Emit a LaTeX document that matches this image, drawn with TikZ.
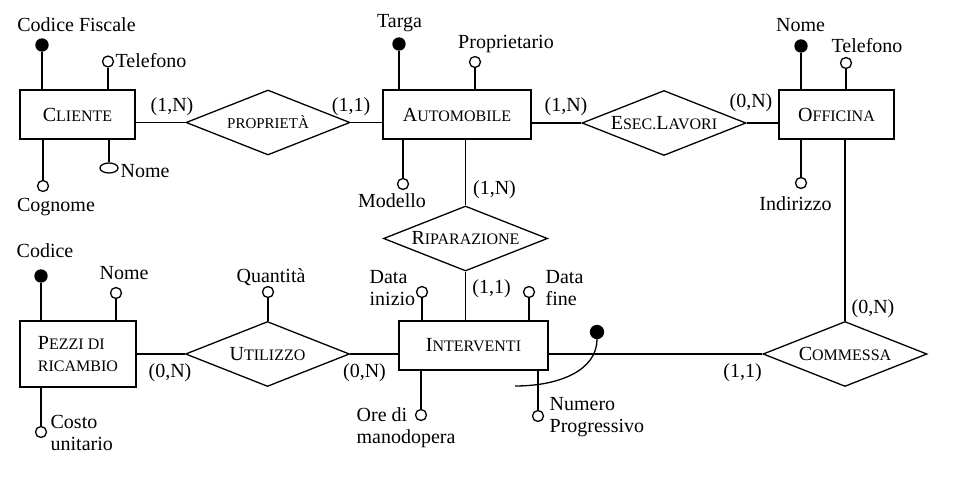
\documentclass[tikz,border=0pt]{standalone}
\usepackage{fontspec}
\setmainfont{Liberation Serif}
\usetikzlibrary{positioning,shapes.geometric,calc}

\newcommand{\smc}[1]{{\fontsize{8}{9}\selectfont #1}}
\newcommand{\ent}[2]{#1\smc{#2}}

\begin{document}
\begin{tikzpicture}[
  x=0.5pt, y=-0.5pt,
  font=\fontsize{10}{11}\selectfont,
  line width=0.65pt,
  entity/.style={draw, rectangle, inner sep=0pt, minimum height=24.5pt, fill=white},
  relation/.style={draw, diamond, aspect=2.5, inner sep=0pt, minimum width=82pt,
    minimum height=32.5pt, fill=white},
  key/.style={circle, draw, fill=black, inner sep=0pt, minimum size=6pt},
  attr/.style={circle, draw, fill=white, inner sep=0pt, minimum size=5.5pt},
  card/.style={inner sep=0pt, anchor=base},
  lbl/.style={inner sep=0pt, anchor=base},
  lbl2/.style={inner sep=0pt, anchor=west, align=left}
]
\useasboundingbox (0,0) rectangle (957,482);

% entities
\node[entity, minimum width=57.5pt] (ent-cliente) at (77.5,114.5) {\ent{C}{LIENTE}};
\node[entity, minimum width=74pt] (ent-automobile) at (457,114.5) {\ent{A}{UTOMOBILE}};
\node[entity, minimum width=57.5pt] (ent-officina) at (836.5,114.5) {\ent{O}{FFICINA}};
\node[entity, minimum width=58pt, minimum height=33pt, align=left] (ent-pezzi) at (78,354) {\ent{P}{EZZI DI}\\\smc{RICAMBIO}};
\node[entity, minimum width=74.5pt] (ent-interventi) at (473.5,345.5) {\ent{I}{NTERVENTI}};

% relationships
\node[relation] (rel-proprieta) at (268,122.5) {{\fontsize{7.5}{9}\selectfont PROPRIET\`A}};
\node[relation] (rel-esec) at (664,123) {\ent{E}{SEC.}\ent{L}{AVORI}};
\node[relation] (rel-riparazione) at (465.5,238.5) {\ent{R}{IPARAZIONE}};
\node[relation] (rel-utilizzo) at (267.5,354) {\ent{U}{TILIZZO}};
\node[relation] (rel-commessa) at (845,354) {\ent{C}{OMMESSA}};

% links
\draw (ent-cliente.east |- rel-proprieta.west) -- (rel-proprieta.west);
\draw (rel-proprieta.east) -- (rel-proprieta.east -| ent-automobile.west);
\draw (ent-automobile.east |- rel-esec.west) -- (rel-esec.west);
\draw (rel-esec.east) -- (rel-esec.east -| ent-officina.west);
\draw (rel-riparazione.north) -- (rel-riparazione.north |- ent-automobile.south);
\draw (rel-riparazione.south) -- (rel-riparazione.south |- ent-interventi.north);
\draw (ent-pezzi.east |- rel-utilizzo.west) -- (rel-utilizzo.west);
\draw (rel-utilizzo.east) -- (rel-utilizzo.east -| ent-interventi.west);
\draw (ent-interventi.east |- rel-commessa.west) -- (rel-commessa.west);
\draw (rel-commessa.north) -- (rel-commessa.north |- ent-officina.south);

% cardinalities
\node[card] (card-cli-prop) at (172,111) {(1,N)};
\node[card] (card-auto-prop) at (351,111) {(1,1)};
\node[card] (card-auto-esec) at (566,111) {(1,N)};
\node[card] (card-off-esec) at (751,107) {(0,N)};
\node[card] (card-auto-rip) at (494.5,194) {(1,N)};
\node[card] (card-int-rip) at (491.5,293) {(1,1)};
\node[card] (card-pez-util) at (170,377) {(0,N)};
\node[card] (card-int-util) at (364.5,377) {(0,N)};
\node[card] (card-int-comm) at (742.5,377) {(1,1)};
\node[card] (card-off-comm) at (873,313) {(0,N)};

% cliente attributes
\node[key] (key-cliente-cf) at (42,45) {};
\node[attr] (att-cliente-tel) at (108,61.5) {};
\node[attr] (att-cliente-cogn) at (43,186) {};
\node[draw, ellipse, fill=white, inner sep=0pt, minimum width=9pt, minimum height=5pt] (att-cliente-nome) at (109,168) {};
\draw (key-cliente-cf) -- (key-cliente-cf |- ent-cliente.north);
\draw (att-cliente-tel) -- (att-cliente-tel |- ent-cliente.north);
\draw (att-cliente-cogn) -- (att-cliente-cogn |- ent-cliente.south);
\draw (att-cliente-nome) -- (att-cliente-nome |- ent-cliente.south);
\node[lbl] (lbl-cliente-cf) at (76.5,32) {Codice Fiscale};
\node[lbl, anchor=base west] (lbl-cliente-tel) at (115,67) {Telefono};
\node[lbl] (lbl-cliente-cogn) at (56,211) {Cognome};
\node[lbl, anchor=base west] (lbl-cliente-nome) at (120,177) {Nome};

% automobile attributes
\node[key] (key-auto-targa) at (399,44) {};
\node[attr] (att-auto-prop) at (475,62) {};
\node[attr] (att-auto-mod) at (403,184) {};
\draw (key-auto-targa) -- (key-auto-targa |- ent-automobile.north);
\draw (att-auto-prop) -- (att-auto-prop |- ent-automobile.north);
\draw (att-auto-mod) -- (att-auto-mod |- ent-automobile.south);
\node[lbl] (lbl-auto-targa) at (399.5,27) {Targa};
\node[lbl] (lbl-auto-prop) at (506,48) {Proprietario};
\node[lbl] (lbl-auto-mod) at (392,207) {Modello};

% officina attributes
\node[key] (key-off-nome) at (801,46) {};
\node[attr] (att-off-tel) at (846,63) {};
\node[attr] (att-off-ind) at (801,183) {};
\draw (key-off-nome) -- (key-off-nome |- ent-officina.north);
\draw (att-off-tel) -- (att-off-tel |- ent-officina.north);
\draw (att-off-ind) -- (att-off-ind |- ent-officina.south);
\node[lbl] (lbl-off-nome) at (800.5,32) {Nome};
\node[lbl] (lbl-off-tel) at (867,52) {Telefono};
\node[lbl] (lbl-off-ind) at (795.5,210) {Indirizzo};

% pezzi di ricambio attributes
\node[key] (key-pezzi-cod) at (41,276) {};
\node[attr] (att-pezzi-nome) at (116,293) {};
\node[attr] (att-pezzi-costo) at (41,432) {};
\draw (key-pezzi-cod) -- (key-pezzi-cod |- ent-pezzi.north);
\draw (att-pezzi-nome) -- (att-pezzi-nome |- ent-pezzi.north);
\draw (att-pezzi-costo) -- (att-pezzi-costo |- ent-pezzi.south);
\node[lbl] (lbl-pezzi-cod) at (45,257) {Codice};
\node[lbl] (lbl-pezzi-nome) at (124,279) {Nome};
\node[lbl2] (lbl-pezzi-costo) at (50,433) {Costo\\unitario};

% utilizzo attribute
\node[attr] (att-util-qta) at (268,292) {};
\draw (att-util-qta) -- (att-util-qta |- rel-utilizzo.north);
\node[lbl] (lbl-util-qta) at (271,282) {Quantit\`a};

% interventi attributes
\node[attr] (att-int-inizio) at (422,292) {};
\node[attr] (att-int-fine) at (529,292) {};
\node[attr] (att-int-ore) at (421,415) {};
\node[attr] (att-int-num) at (538,416) {};
\draw (att-int-inizio) -- (att-int-inizio |- ent-interventi.north);
\draw (att-int-fine) -- (att-int-fine |- ent-interventi.north);
\draw (att-int-ore) -- (att-int-ore |- ent-interventi.south);
\draw (att-int-num) -- (att-int-num |- ent-interventi.south);
\node[lbl2] (lbl-int-inizio) at (369,288) {Data\\inizio};
\node[lbl2] (lbl-int-fine) at (545,288) {Data\\fine};
\node[lbl2] (lbl-int-ore) at (356,428) {Ore di\\manodopera};
\node[lbl2] (lbl-int-num) at (549,417) {Numero\\Progressivo};

% external identifier
\coordinate (id-start) at (515,386);
\node[key, minimum size=6.5pt] (key-int-id) at (597,332) {};
\draw (id-start) .. controls (560,386) and (597,370) .. (key-int-id);
\end{tikzpicture}
\end{document}
